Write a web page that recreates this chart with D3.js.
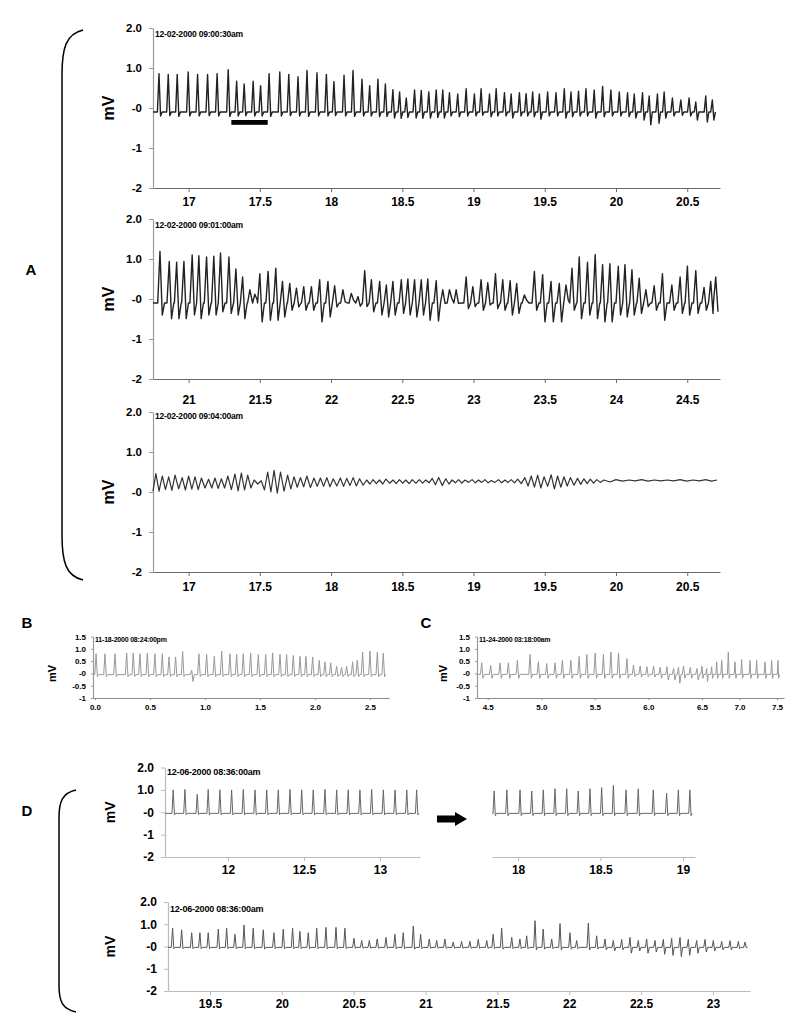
<!DOCTYPE html>
<html>
<head>
<meta charset="utf-8">
<script src="https://cdn.jsdelivr.net/npm/d3@7"></script>
<style>
  body { margin: 0; background: #fff; }
  svg { display: block; font-family: "Liberation Sans", Arial, sans-serif; font-weight: bold; }
</style>
</head>
<body>
<svg id="fig" width="800" height="1018"></svg>
<script>
// ---- tick labels ----
var aYTicks = [2, 1, 0, -1, -2];
var aYLabels = ["2.0", "1.0", "-0", "-1", "-2"];
var bcYTicks = [1.5, 1, 0.5, 0, -0.5, -1];
var bcYLabels = ["1.5", "1.0", "0.5", "-0", "-0.5", "-1"];
var a1XTicks = [17, 17.5, 18, 18.5, 19, 19.5, 20, 20.5];
var a2XTicks = [21, 21.5, 22, 22.5, 23, 23.5, 24, 24.5];
var bXTicks = [0, 0.5, 1, 1.5, 2, 2.5];
var bXLabels = ["0.0", "0.5", "1.0", "1.5", "2.0", "2.5"];
var cXTicks = [4.5, 5, 5.5, 6, 6.5, 7, 7.5];
var cXLabels = ["4.5", "5.0", "5.5", "6.0", "6.5", "7.0", "7.5"];
var d1XTicks = [12, 12.5, 13];
var d2XTicks = [18, 18.5, 19];
var d3XTicks = [19.5, 20, 20.5, 21, 21.5, 22, 22.5, 23];

var stamps = ["12-02-2000 09:00:30am", "12-02-2000 09:01:00am", "12-02-2000 09:04:00am",
              "11-18-2000 08:24:00pm", "11-24-2000 03:18:00am", "12-06-2000 08:36:00am"];

// ---- traces: beat time (s), peak (mV), trough (mV) ----
var a1Times = [16.792,16.857,16.920,16.997,17.063,17.133,17.200,17.278,17.337,17.390,17.453,17.505,17.565,17.640,17.703,17.768,17.831,17.901,17.967,18.020,18.091,18.154,18.217,18.271,18.329,18.381,18.434,18.481,18.528,18.586,18.633,18.686,18.738,18.784,
  18.831,18.889,18.948,19.006,19.053,19.112,19.159,19.217,19.264,19.322,19.369,19.415,19.462,19.520,19.579,19.637,19.684,19.737,19.789,19.847,19.906,19.964,20.023,20.081,20.128,20.186,20.233,20.291,20.338,20.396,20.455,20.513,20.560,20.630,20.676];
var a1Peaks = [0.86,0.84,0.84,0.90,0.84,0.84,0.86,0.96,0.67,0.60,0.67,0.56,0.86,0.90,0.84,0.78,0.94,0.88,0.84,0.66,0.82,0.94,0.72,0.56,0.72,0.60,0.46,0.40,0.25,0.45,0.44,0.40,0.45,0.45,
  0.38,0.35,0.48,0.35,0.48,0.35,0.48,0.38,0.35,0.38,0.36,0.40,0.35,0.40,0.38,0.48,0.40,0.42,0.48,0.45,0.54,0.45,0.40,0.38,0.35,0.38,0.30,0.35,0.40,0.25,0.20,0.25,0.15,0.30,0.20];
var a1Troughs = [-0.20,-0.19,-0.21,-0.20,-0.20,-0.19,-0.20,-0.21,-0.20,-0.19,-0.20,-0.20,-0.21,-0.20,-0.19,-0.20,-0.21,-0.20,-0.20,-0.19,-0.20,-0.21,-0.20,-0.20,-0.22,-0.21,-0.25,-0.26,-0.24,-0.25,-0.26,-0.25,-0.24,-0.25,
  -0.20,-0.22,-0.20,-0.20,-0.18,-0.22,-0.20,-0.20,-0.25,-0.20,-0.20,-0.22,-0.28,-0.20,-0.20,-0.25,-0.22,-0.20,-0.20,-0.25,-0.22,-0.20,-0.20,-0.22,-0.25,-0.30,-0.42,-0.38,-0.25,-0.20,-0.18,-0.20,-0.30,-0.35,-0.30];

var a2Times = [20.799,20.864,20.916,20.967,21.025,21.072,21.126,21.177,21.224,21.283,21.332,21.379,21.430,21.465,21.500,21.558,21.612,21.659,21.710,21.757,21.808,21.862,21.920,21.978,22.025,22.083,22.142,22.189,22.236,22.283,22.341,22.388,22.434,22.493,22.539,22.586,22.633,22.679,22.738,22.784,
  22.831,22.878,22.948,22.995,23.053,23.100,23.154,23.205,23.257,23.303,23.357,23.427,23.485,23.544,23.602,23.649,23.691,23.742,23.800,23.854,23.906,23.957,24.016,24.063,24.112,24.163,24.210,24.268,24.326,24.392,24.450,24.501,24.560,24.618,24.665,24.700];
var a2Peaks = [1.19,0.94,0.92,0.94,1.10,1.08,1.05,1.07,1.15,1.05,0.75,0.55,0.23,0.12,0.63,0.69,0.77,0.44,0.39,0.27,0.31,0.31,0.48,0.44,0.33,0.23,0.14,0.06,0.71,0.48,0.44,0.35,0.44,0.48,0.50,0.48,0.48,0.50,0.46,0.23,
  0.23,0.23,0.55,0.31,0.48,0.41,0.63,0.48,0.46,0.39,0.10,0.69,0.61,0.44,0.39,0.35,0.77,1.05,0.92,1.11,0.86,0.88,0.82,0.86,0.73,0.52,0.23,0.33,0.63,0.35,0.55,0.82,0.71,0.29,0.44,0.55];
var a2Troughs = [-0.40,-0.49,-0.49,-0.49,-0.40,-0.49,-0.40,-0.40,-0.32,-0.36,-0.40,-0.49,-0.05,-0.02,-0.57,-0.53,-0.53,-0.45,-0.28,-0.20,-0.28,-0.28,-0.57,-0.45,-0.20,-0.07,-0.03,-0.18,-0.19,-0.32,-0.40,-0.45,-0.40,-0.36,-0.40,-0.45,-0.40,-0.53,-0.55,-0.11,
  0.02,-0.11,-0.24,-0.19,-0.28,-0.15,-0.24,-0.28,-0.40,-0.36,-0.03,-0.28,-0.57,-0.57,-0.57,-0.03,-0.28,-0.49,-0.40,-0.49,-0.57,-0.57,-0.40,-0.45,-0.40,-0.36,-0.19,-0.28,-0.53,-0.28,-0.36,-0.40,-0.36,-0.28,-0.36,-0.32];

var a3Times = [16.77,16.815,16.86,16.905,16.955,17.0,17.045,17.09,17.14,17.185,17.23,17.275,17.325,17.37,17.415,17.46,17.51,17.555,17.6,17.645,17.695,17.74,17.785,17.83,17.88,17.925,17.97,18.015,18.065,18.11,18.155,18.2,
  18.25,18.295,18.34,18.385,18.435,18.48,18.525,18.57,18.62,18.665,18.71,18.755,18.805,18.85,18.895,18.94,18.99,19.035,19.08,19.125,19.175,19.22,19.265,19.31,19.36,19.405,19.45,19.495,19.545,19.59,19.635,19.68,19.73,19.775,19.82,19.865,19.915,
  20.0,20.09,20.18,20.27,20.36,20.45,20.54,20.63,20.71];
var a3Peaks = [0.46,0.40,0.38,0.42,0.36,0.40,0.38,0.35,0.32,0.35,0.33,0.40,0.45,0.47,0.42,0.30,0.28,0.50,0.54,0.50,0.42,0.38,0.36,0.40,0.35,0.35,0.36,0.33,0.35,0.34,0.36,0.33,
  0.30,0.31,0.30,0.32,0.30,0.31,0.30,0.31,0.31,0.30,0.34,0.36,0.33,0.30,0.31,0.30,0.31,0.30,0.31,0.29,0.31,0.30,0.31,0.32,0.36,0.40,0.42,0.38,0.43,0.40,0.38,0.36,0.34,0.33,0.32,0.31,0.30,
  0.31,0.30,0.31,0.30,0.30,0.31,0.30,0.31,0.30];
var a3Troughs = [0.02,0.06,0.04,0.08,0.05,0.07,0.06,0.10,0.10,0.09,0.10,0.06,0.03,0.05,0.10,0.20,0.05,0.00,-0.03,0.02,0.08,0.12,0.13,0.11,0.14,0.14,0.13,0.15,0.14,0.16,0.15,0.17,
  0.20,0.21,0.20,0.22,0.21,0.22,0.21,0.22,0.22,0.23,0.18,0.16,0.20,0.23,0.22,0.24,0.23,0.24,0.23,0.24,0.23,0.24,0.23,0.21,0.15,0.12,0.10,0.14,0.08,0.12,0.15,0.17,0.19,0.21,0.22,0.24,0.25,
  0.27,0.28,0.27,0.28,0.28,0.27,0.28,0.27,0.27];

var bTimes = [0.01,0.091,0.182,0.288,0.348,0.409,0.476,0.545,0.612,0.673,0.733,0.797,0.879,0.945,1.015,1.085,1.152,1.227,1.288,1.348,1.415,1.485,1.552,1.615,1.682,1.742,1.803,1.864,1.918,1.979,2.039,2.091,2.143,2.197,2.242,2.288,2.342,2.385,2.433,2.5,2.567,2.621];
var bPeaks = [0.80,0.80,0.80,0.83,0.83,0.80,0.83,0.80,0.80,0.67,0.67,0.89,0.13,0.80,0.77,0.69,0.91,0.80,0.77,0.80,0.83,0.77,0.77,0.83,0.77,0.77,0.73,0.69,0.69,0.67,0.53,0.47,0.43,0.29,0.24,0.29,0.47,0.53,0.87,0.91,0.87,0.83];
var bTroughs = [-0.13,-0.13,-0.13,-0.13,-0.13,-0.13,-0.13,-0.13,-0.13,-0.13,-0.13,-0.13,-0.33,-0.13,-0.13,-0.13,-0.13,-0.13,-0.13,-0.13,-0.13,-0.13,-0.13,-0.13,-0.13,-0.13,-0.13,-0.13,-0.13,-0.13,-0.13,-0.13,-0.13,-0.13,-0.13,-0.13,-0.13,-0.13,-0.13,-0.13,-0.13,-0.13];

var cTimes = [4.444,4.528,4.615,4.693,4.777,4.895,4.973,5.051,5.129,5.197,5.276,5.353,5.425,5.503,5.580,5.650,5.721,5.799,5.861,5.923,5.986,6.048,6.110,6.173,6.235,6.281,6.328,6.391,6.453,6.5,6.562,6.629,6.696,6.763,6.851,6.940,7.029,7.140,7.229,7.340,7.429,7.517];
var cPeaks = [0.43,0.33,0.43,0.43,0.53,0.77,0.47,0.40,0.43,0.53,0.53,0.69,0.77,0.83,0.77,0.87,0.83,0.60,0.33,0.30,0.27,0.30,0.25,0.27,0.20,0.25,0.30,0.24,0.20,0.30,0.20,0.27,0.47,0.53,0.87,0.47,0.56,0.53,0.53,0.47,0.53,0.53];
var cTroughs = [-0.20,-0.20,-0.20,-0.20,-0.20,-0.20,-0.20,-0.20,-0.20,-0.20,-0.20,-0.20,-0.20,-0.20,-0.20,-0.20,-0.20,-0.20,-0.13,-0.15,-0.13,-0.15,-0.20,-0.27,-0.27,-0.40,-0.20,-0.20,-0.27,-0.20,-0.33,-0.20,-0.20,-0.20,-0.20,-0.20,-0.20,-0.20,-0.20,-0.20,-0.20,-0.20];

var d1Times = [11.640,11.717,11.798,11.870,11.947,12.024,12.101,12.178,12.255,12.331,12.408,12.485,12.561,12.638,12.715,12.791,12.868,12.945,13.022,13.099,13.176,13.241];
var d1Peaks = [1.00,1.02,0.80,1.02,1.00,1.00,1.02,1.00,1.00,1.00,1.02,1.00,1.00,1.02,1.00,1.00,1.00,1.02,1.00,1.00,1.00,1.00];
var d1Troughs = [-0.12,-0.12,-0.10,-0.12,-0.12,-0.12,-0.12,-0.12,-0.12,-0.12,-0.12,-0.12,-0.12,-0.12,-0.12,-0.12,-0.12,-0.12,-0.12,-0.12,-0.12,-0.12];

var d2Times = [17.855,17.932,18.012,18.083,18.153,18.224,18.295,18.365,18.436,18.507,18.578,18.655,18.729,18.820,18.901,18.972,19.042];
var d2Peaks = [0.95,1.00,1.00,0.95,1.00,1.05,1.05,0.95,1.05,1.10,1.20,1.00,1.05,1.00,0.85,1.00,1.00];
var d2Troughs = [-0.15,-0.15,-0.15,-0.15,-0.15,-0.15,-0.15,-0.15,-0.15,-0.15,-0.15,-0.15,-0.15,-0.15,-0.15,-0.15,-0.15];

var d3Times = [19.240,19.303,19.373,19.430,19.488,19.558,19.616,19.674,19.737,19.801,19.871,19.945,20.010,20.075,20.126,20.184,20.243,20.307,20.377,20.439,20.502,20.556,20.609,20.664,20.725,20.787,20.845,20.915,20.966,21.026,21.078,21.135,
  21.193,21.251,21.309,21.367,21.426,21.471,21.530,21.600,21.657,21.704,21.762,21.819,21.878,21.936,22.005,22.052,22.133,22.191,
  22.249,22.307,22.365,22.423,22.481,22.539,22.597,22.655,22.713,22.771,22.829,22.887,22.945,23.003,23.061,23.119,23.177,23.223];
var d3Peaks = [0.82,0.75,0.62,0.62,0.62,0.78,0.82,0.55,0.96,0.82,0.75,0.62,0.78,0.82,0.68,0.62,0.82,0.86,0.86,0.82,0.37,0.27,0.27,0.34,0.41,0.55,0.62,0.92,0.55,0.34,0.27,0.34,
  0.20,0.23,0.23,0.32,0.27,0.55,0.82,0.41,0.34,0.48,1.16,0.78,0.34,1.03,0.62,0.27,1.05,0.48,
  0.34,0.27,0.32,0.41,0.27,0.34,0.27,0.32,0.37,0.41,0.32,0.27,0.32,0.27,0.23,0.26,0.23,0.20];
var d3Troughs = [-0.10,-0.10,-0.10,-0.10,-0.10,-0.10,-0.10,-0.10,-0.10,-0.10,-0.12,-0.10,-0.10,-0.10,-0.10,-0.10,-0.10,-0.10,-0.10,-0.10,-0.08,-0.08,-0.08,-0.08,-0.08,-0.10,-0.10,-0.12,-0.10,-0.08,-0.08,-0.08,
  -0.08,-0.08,-0.08,-0.08,-0.08,-0.10,-0.12,-0.10,-0.10,-0.10,-0.15,-0.12,-0.10,-0.15,-0.12,-0.10,-0.15,-0.12,
  -0.15,-0.20,-0.15,-0.30,-0.20,-0.30,-0.25,-0.35,-0.40,-0.45,-0.40,-0.30,-0.25,-0.20,-0.15,-0.15,-0.10,-0.05];

// ---- layout ----
var svg = d3.select("#fig");

var panels = [
  { t: a1Times, p: a1Peaks, q: a1Troughs, mode: "spike", base: -0.1, w: 0.011,
    xDomain: [16.75, 20.73], xRange: [153, 720], yDomain: [2, -2], yRange: [28, 188],
    xTicks: a1XTicks, yTicks: aYTicks, yLabels: aYLabels, stamp: stamps[0], stampY: 37, stampSize: 8.5,
    color: "#222", lw: 1.4, xFont: 12, yFont: 11.5, xPad: 5, mvX: 108, mvSize: 16, yAxisColor: "#9a9a9a", xAxisColor: "#6a6a6a" },
  { t: a2Times, p: a2Peaks, q: a2Troughs, mode: "spike", base: -0.1, w: 0.016,
    xDomain: [20.75, 24.73], xRange: [153, 720], yDomain: [2, -2], yRange: [219, 379],
    xTicks: a2XTicks, yTicks: aYTicks, yLabels: aYLabels, stamp: stamps[1], stampY: 228, stampSize: 8.5,
    color: "#222", lw: 1.4, xFont: 12, yFont: 11.5, xPad: 12, mvX: 108, mvSize: 16, yAxisColor: "#9a9a9a", xAxisColor: "#6a6a6a" },
  { t: a3Times, p: a3Peaks, q: a3Troughs, mode: "wave",
    xDomain: [16.75, 20.73], xRange: [153, 720], yDomain: [2, -2], yRange: [412, 572],
    xTicks: a1XTicks, yTicks: aYTicks, yLabels: aYLabels, stamp: stamps[2], stampY: 419, stampSize: 8.5,
    color: "#333", lw: 1.2, xFont: 12, yFont: 11.5, xPad: 6, mvX: 108, mvSize: 16, yAxisColor: "#9a9a9a", xAxisColor: "#6a6a6a" },
  { t: bTimes, p: bPeaks, q: bTroughs, mode: "spike", base: -0.05, w: 0.012,
    xDomain: [-0.018, 2.673], xRange: [93, 389], yDomain: [1.5, -1], yRange: [636.5, 698],
    xTicks: bXTicks, xLabels: bXLabels, yTicks: bcYTicks, yLabels: bcYLabels, stamp: stamps[3], stampY: 642, stampSize: 7,
    color: "#999", lw: 1, xFont: 8, yFont: 8, xPad: 4, tick: 2, mvX: 52, mvSize: 11, yAxisColor: "#9a9a9a", xAxisColor: "#8a8a8a" },
  { t: cTimes, p: cPeaks, q: cTroughs, mode: "spike", base: -0.04, w: 0.012,
    xDomain: [4.4, 6.5, 7.5, 7.62], xRange: [477, 702, 777, 784], yDomain: [1.5, -1], yRange: [636.5, 698],
    xTicks: cXTicks, xLabels: cXLabels, yTicks: bcYTicks, yLabels: bcYLabels, stamp: stamps[4], stampY: 642, stampSize: 7,
    color: "#999", lw: 1, xFont: 8, yFont: 8, xPad: 4, tick: 2, mvX: 443, mvSize: 11, yAxisColor: "#9a9a9a", xAxisColor: "#8a8a8a" },
  { t: d1Times, p: d1Peaks, q: d1Troughs, mode: "spike", base: -0.05, w: 0.008,
    xDomain: [11.586, 13.263], xRange: [165, 420], yDomain: [2, -2], yRange: [767.5, 857],
    xTicks: d1XTicks, yTicks: aYTicks, yLabels: aYLabels, stamp: stamps[5], stampY: 775, stampSize: 9,
    color: "#666", lw: 1, xFont: 12, yFont: 12, xPad: 4, mvX: 110, mvSize: 14, yAxisColor: "#bbb", xAxisColor: "#bbb" },
  { t: d2Times, p: d2Peaks, q: d2Troughs, mode: "spike", base: -0.05, w: 0.007, noY: true,
    xDomain: [17.842, 19.073], xRange: [492, 695], yDomain: [2, -2], yRange: [767.5, 857],
    xTicks: d2XTicks, color: "#666", lw: 1, xFont: 12, xPad: 4, xAxisColor: "#bbb" },
  { t: d3Times, p: d3Peaks, q: d3Troughs, mode: "spike", base: -0.04, w: 0.009,
    xDomain: [19.208, 23.258], xRange: [168, 750], yDomain: [2, -2], yRange: [902, 991],
    xTicks: d3XTicks, yTicks: aYTicks, yLabels: aYLabels, stamp: stamps[5], stampY: 912, stampSize: 9,
    color: "#555", lw: 1, xFont: 12, yFont: 12, xPad: 4, mvX: 110, mvSize: 14, yAxisColor: "#bbb", xAxisColor: "#bbb" }
];

function tracePoints(pn) {
  var pts = [];
  var t = pn.t, n = t.length;
  if (pn.mode === "wave") {
    pts.push([pn.xDomain[0], pn.q[0]]);
    t.forEach(function (ti, i) {
      var gap = i < n - 1 ? t[i + 1] - ti : ti - t[i - 1];
      pts.push([ti, pn.p[i]], [ti + gap / 2, pn.q[i]]);
    });
  } else {
    pts.push([pn.xDomain[0], pn.base]);
    t.forEach(function (ti, i) {
      var next = i < n - 1 ? t[i + 1] : Infinity;
      pts.push([ti - pn.w, pn.base], [ti, pn.p[i]], [ti + pn.w, pn.q[i]]);
      if (ti + 2 * pn.w < next - pn.w) pts.push([ti + 2 * pn.w, pn.base]);
    });
  }
  var last = pn.xDomain[pn.xDomain.length - 1];
  pts = pts.filter(function (d) { return d[0] >= pn.xDomain[0] && d[0] <= last; });
  return pts;
}

panels.forEach(function (pn) {
  var x = d3.scaleLinear().domain(pn.xDomain).range(pn.xRange);
  var y = d3.scaleLinear().domain(pn.yDomain).range(pn.yRange);
  var g = svg.append("g");
  var tk = pn.tick || 4;

  if (!pn.noY) {
    var ya = g.append("g")
      .attr("transform", "translate(" + pn.xRange[0] + ",0)")
      .call(d3.axisLeft(y).tickValues(pn.yTicks)
        .tickFormat(function (d, i) { return pn.yLabels[i]; })
        .tickSize(tk).tickSizeOuter(0).tickPadding(tk + 3));
    ya.attr("font-family", null).attr("font-size", pn.yFont);
    ya.select(".domain").attr("stroke", pn.yAxisColor).attr("stroke-width", 1.2);
    ya.selectAll(".tick line").attr("stroke", pn.yAxisColor);
    ya.selectAll(".tick text").attr("fill", "#000");
  }

  var xa = g.append("g")
    .attr("transform", "translate(0," + pn.yRange[1] + ")")
    .call(d3.axisBottom(x).tickValues(pn.xTicks)
      .tickFormat(function (d, i) { return pn.xLabels ? pn.xLabels[i] : String(d); })
      .tickSize(tk).tickSizeOuter(0).tickPadding(pn.xPad));
  xa.attr("font-family", null).attr("font-size", pn.xFont);
  xa.select(".domain").attr("stroke", pn.xAxisColor).attr("stroke-width", 1.2);
  xa.selectAll(".tick line").attr("stroke", pn.xAxisColor);
  xa.selectAll(".tick text").attr("fill", "#000");

  var line = d3.line().x(function (d) { return x(d[0]); }).y(function (d) { return y(d[1]); });
  g.append("path")
    .attr("d", line(tracePoints(pn)))
    .attr("fill", "none")
    .attr("stroke", pn.color)
    .attr("stroke-width", pn.lw)
    .attr("stroke-linejoin", "round");

  if (pn.stamp) {
    g.append("text")
      .attr("x", pn.xRange[0] + 2).attr("y", pn.stampY)
      .attr("font-size", pn.stampSize).attr("letter-spacing", -0.2)
      .text(pn.stamp);
  }
  if (pn.mvX) {
    g.append("text")
      .attr("transform", "translate(" + pn.mvX + "," + y(0) + ") rotate(-90)")
      .attr("text-anchor", "middle").attr("dy", "0.35em")
      .attr("font-size", pn.mvSize)
      .text("mV");
  }

  pn.x = x; pn.y = y;
});

// black bar under the first trace
var a1 = panels[0];
svg.append("rect")
  .attr("x", a1.x(17.30)).attr("width", a1.x(17.555) - a1.x(17.30))
  .attr("y", a1.y(-0.3)).attr("height", a1.y(-0.42) - a1.y(-0.3))
  .attr("fill", "#000");

// arrow between D panels
svg.append("path")
  .attr("d", "M437,815.5 L455,815.5 L455,812 L467,819 L455,826 L455,822.5 L437,822.5 Z")
  .attr("fill", "#000");

// brackets
svg.append("path")
  .attr("d", "M83,30 C66,34 62,48 62,75 L62,535 C62,562 66,576 83,580")
  .attr("fill", "none").attr("stroke", "#000").attr("stroke-width", 1.5);
svg.append("path")
  .attr("d", "M76,790 C62,793 59,802 59,818 L59,985 C59,1001 62,1009 76,1012")
  .attr("fill", "none").attr("stroke", "#000").attr("stroke-width", 1.5);

// panel letters
[["A", 31, 275, 15], ["B", 27, 628, 15], ["C", 426, 628, 15], ["D", 27, 816, 15]].forEach(function (l) {
  svg.append("text").attr("x", l[1]).attr("y", l[2]).attr("text-anchor", "middle")
    .attr("font-size", l[3]).text(l[0]);
});
</script>
</body>
</html>
